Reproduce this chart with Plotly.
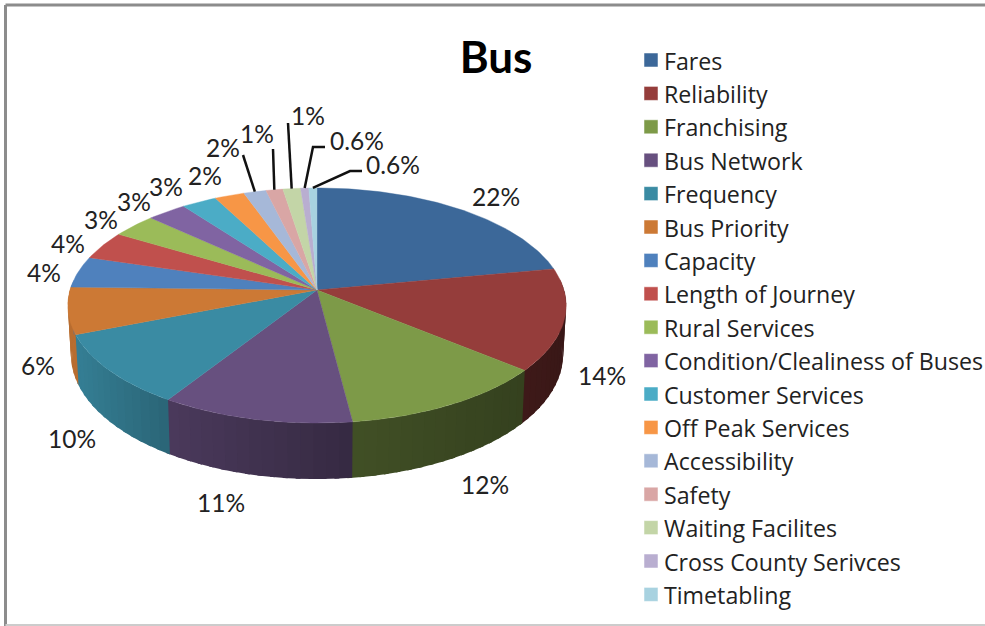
import numpy as np
import plotly.graph_objects as go

# ---- data ----
categories = ["Fares", "Reliability", "Franchising", "Bus Network", "Frequency", "Bus Priority",
              "Capacity", "Length of Journey", "Rural Services", "Condition/Clealiness of Buses",
              "Customer Services", "Off Peak Services", "Accessibility", "Safety",
              "Waiting Facilites", "Cross County Serivces", "Timetabling"]
values = [22, 14, 12, 11, 10, 6.4, 4.3, 3.9, 3.3, 2.9, 2.6, 2.2, 1.65, 1.25, 1.3, 0.6, 0.6]
value_labels = ["22%", "14%", "12%", "11%", "10%", "6%", "4%", "4%", "3%", "3%", "3%", "2%", "2%",
                "1%", "1%", "0.6%", "0.6%"]
colors = ["#3c6899", "#953d3b", "#7d9a48", "#67507f", "#3a8ba3", "#cc7935", "#4f81bd", "#c0504d",
          "#9bbb59", "#8064a2", "#4bacc6", "#f79646", "#a6b8d8", "#d9a6a5", "#c3d5a7", "#b9aed0",
          "#a8d2e0"]
title_text = "Bus"

# ---- layout of the drawing (pixels) ----
W, H = 985, 626
CX, CY, R, S, K = 317.0, 290.0, 247.0, 115.5, 0.132     # top face projection
BCY, BR, BS = 338.0, 244.0, 122.5                       # bottom face projection
SWATCH_X, SWATCH_Y0, SWATCH_DY = 651.0, 60.0, 33.4
label_pos = [(496, 196), (602, 375), (485, 484), (221, 502), (72, 438), (38, 365), (44, 272),
             (68, 243), (101, 219), (134, 201), (166, 186), (205, 175), (223, 147), (257, 133),
             (308, 115), (357, 140), (393, 164)]
leader_pts = {12: [(243, 155)], 13: [(273, 149)], 14: [(288, 123)],
              15: [(325, 147), (313, 147)], 16: [(362, 171), (350, 171)]}


def project(a, cy=CY, r=R, s=S):
    u, v = np.sin(a), np.cos(a)
    w = 1 + K * v
    return CX + r * u / w, cy - s * v / w


def shade(hex_color, f):
    rgb = [int(hex_color[i:i + 2], 16) for i in (1, 3, 5)]
    return "rgb(%d,%d,%d)" % tuple(min(255, round(c * f)) for c in rgb)


frac = np.array(values) / sum(values)
edges = np.concatenate([[0], np.cumsum(frac)]) * 2 * np.pi

fig = go.Figure()

# side wall, strip by strip; each strip runs slightly under the next one so no seams show
side_lo, side_hi = np.radians(85), np.radians(275)
overlap = np.radians(1.0)
for i, col in enumerate(colors):
    a0, a1 = max(edges[i], side_lo), min(edges[i + 1], side_hi)
    if a1 <= a0:
        continue
    n = max(1, int(np.degrees(a1 - a0) / 2.5))
    steps = np.linspace(a0, a1, n + 1)
    for b0, b1 in zip(steps[:-1], steps[1:]):
        b1x = min(b1 + overlap, side_hi)
        arc = np.linspace(b0, b1x, 4)
        tx, ty = project(arc)
        bx, by = project(arc[::-1], BCY, BR, BS)
        xm, _ = project(0.5 * (b0 + b1))
        f = np.interp(xm, [70, 80, 170, 351, 525, 566], [0.9, 0.9, 0.72, 0.52, 0.42, 0.38])
        c = shade(col, f)
        fig.add_trace(go.Scatter(x=np.r_[tx, bx, tx[0]], y=np.r_[ty, by, ty[0]], mode="lines",
                                 fill="toself", fillcolor=c, line=dict(width=0),
                                 hoverinfo="skip", showlegend=False))

# top face
for i, col in enumerate(colors):
    arc = np.linspace(edges[i], edges[i + 1], max(3, int(np.degrees(edges[i + 1] - edges[i]))))
    ax, ay = project(arc)
    fig.add_trace(go.Scatter(x=np.r_[CX, ax, CX], y=np.r_[CY, ay, CY], mode="lines", fill="toself",
                             fillcolor=col, line=dict(color=col, width=0.4),
                             name=categories[i], text=f"{categories[i]}: {value_labels[i]}",
                             hoverinfo="text", showlegend=False))

# legend entries: text from the legend, swatches placed closer to the text than it allows
for i, col in enumerate(colors):
    fig.add_trace(go.Scatter(x=[None], y=[None], mode="markers", name=categories[i],
                             legendgroup=categories[i],
                             marker=dict(symbol="square", size=14, color="rgba(0,0,0,0)",
                                         line=dict(width=0))))
fig.add_trace(go.Scatter(x=[SWATCH_X] * len(colors),
                         y=[SWATCH_Y0 + SWATCH_DY * i for i in range(len(colors))],
                         mode="markers", hoverinfo="skip", showlegend=False,
                         marker=dict(symbol="square", size=14, color=colors,
                                     line=dict(color="rgba(255,255,255,0.5)", width=1))))

# leader lines
for i, pts in leader_pts.items():
    mid = 0.5 * (edges[i] + edges[i + 1])
    ex, ey = project(mid)
    xs = [p[0] for p in pts] + [float(ex)]
    ys = [p[1] for p in pts] + [float(ey)]
    fig.add_trace(go.Scatter(x=xs, y=ys, mode="lines", line=dict(color="#111111", width=2.5),
                             hoverinfo="skip", showlegend=False))

# value labels
for (x, y), t in zip(label_pos, value_labels):
    fig.add_annotation(x=x, y=y, text=t, showarrow=False, xanchor="center", yanchor="middle",
                       font=dict(family="Lato", size=24.5, color="#222222"))

# chart frame
fig.add_shape(type="line", xref="paper", yref="paper", x0=5.5 / W, x1=5.5 / W, y0=0, y1=1 - 5 / H,
              line=dict(color="#8c8c8c", width=3))
fig.add_shape(type="line", xref="paper", yref="paper", x0=5.5 / W, x1=1, y0=1 - 5 / H, y1=1 - 5 / H,
              line=dict(color="#8c8c8c", width=3))
fig.add_shape(type="line", xref="paper", yref="paper", x0=5.5 / W, x1=1, y0=1 - 625 / H, y1=1 - 625 / H,
              line=dict(color="#cccccc", width=2))

fig.update_layout(
    width=W, height=H, margin=dict(l=0, r=0, t=0, b=0, autoexpand=False),
    paper_bgcolor="white", plot_bgcolor="white",
    title=dict(text=f"<b>{title_text}</b>", x=496 / W, y=1 - 58 / H, xanchor="center", yanchor="middle",
               xref="paper", yref="paper", font=dict(family="Lato", size=44, color="black")),
    xaxis=dict(range=[0, W], visible=False, fixedrange=True),
    yaxis=dict(range=[H, 0], visible=False, fixedrange=True),
    legend=dict(x=624 / W, y=1 - 39 / H, xanchor="left", yanchor="top", bgcolor="rgba(0,0,0,0)",
                font=dict(family="Open Sans", size=23.2, color="#222222"), tracegroupgap=0.24,
                itemclick=False, itemdoubleclick=False),
)

fig.write_html("out.html", config={"displayModeBar": False},
               post_script="document.body.style.margin='0';document.documentElement.style.overflow='hidden';")
